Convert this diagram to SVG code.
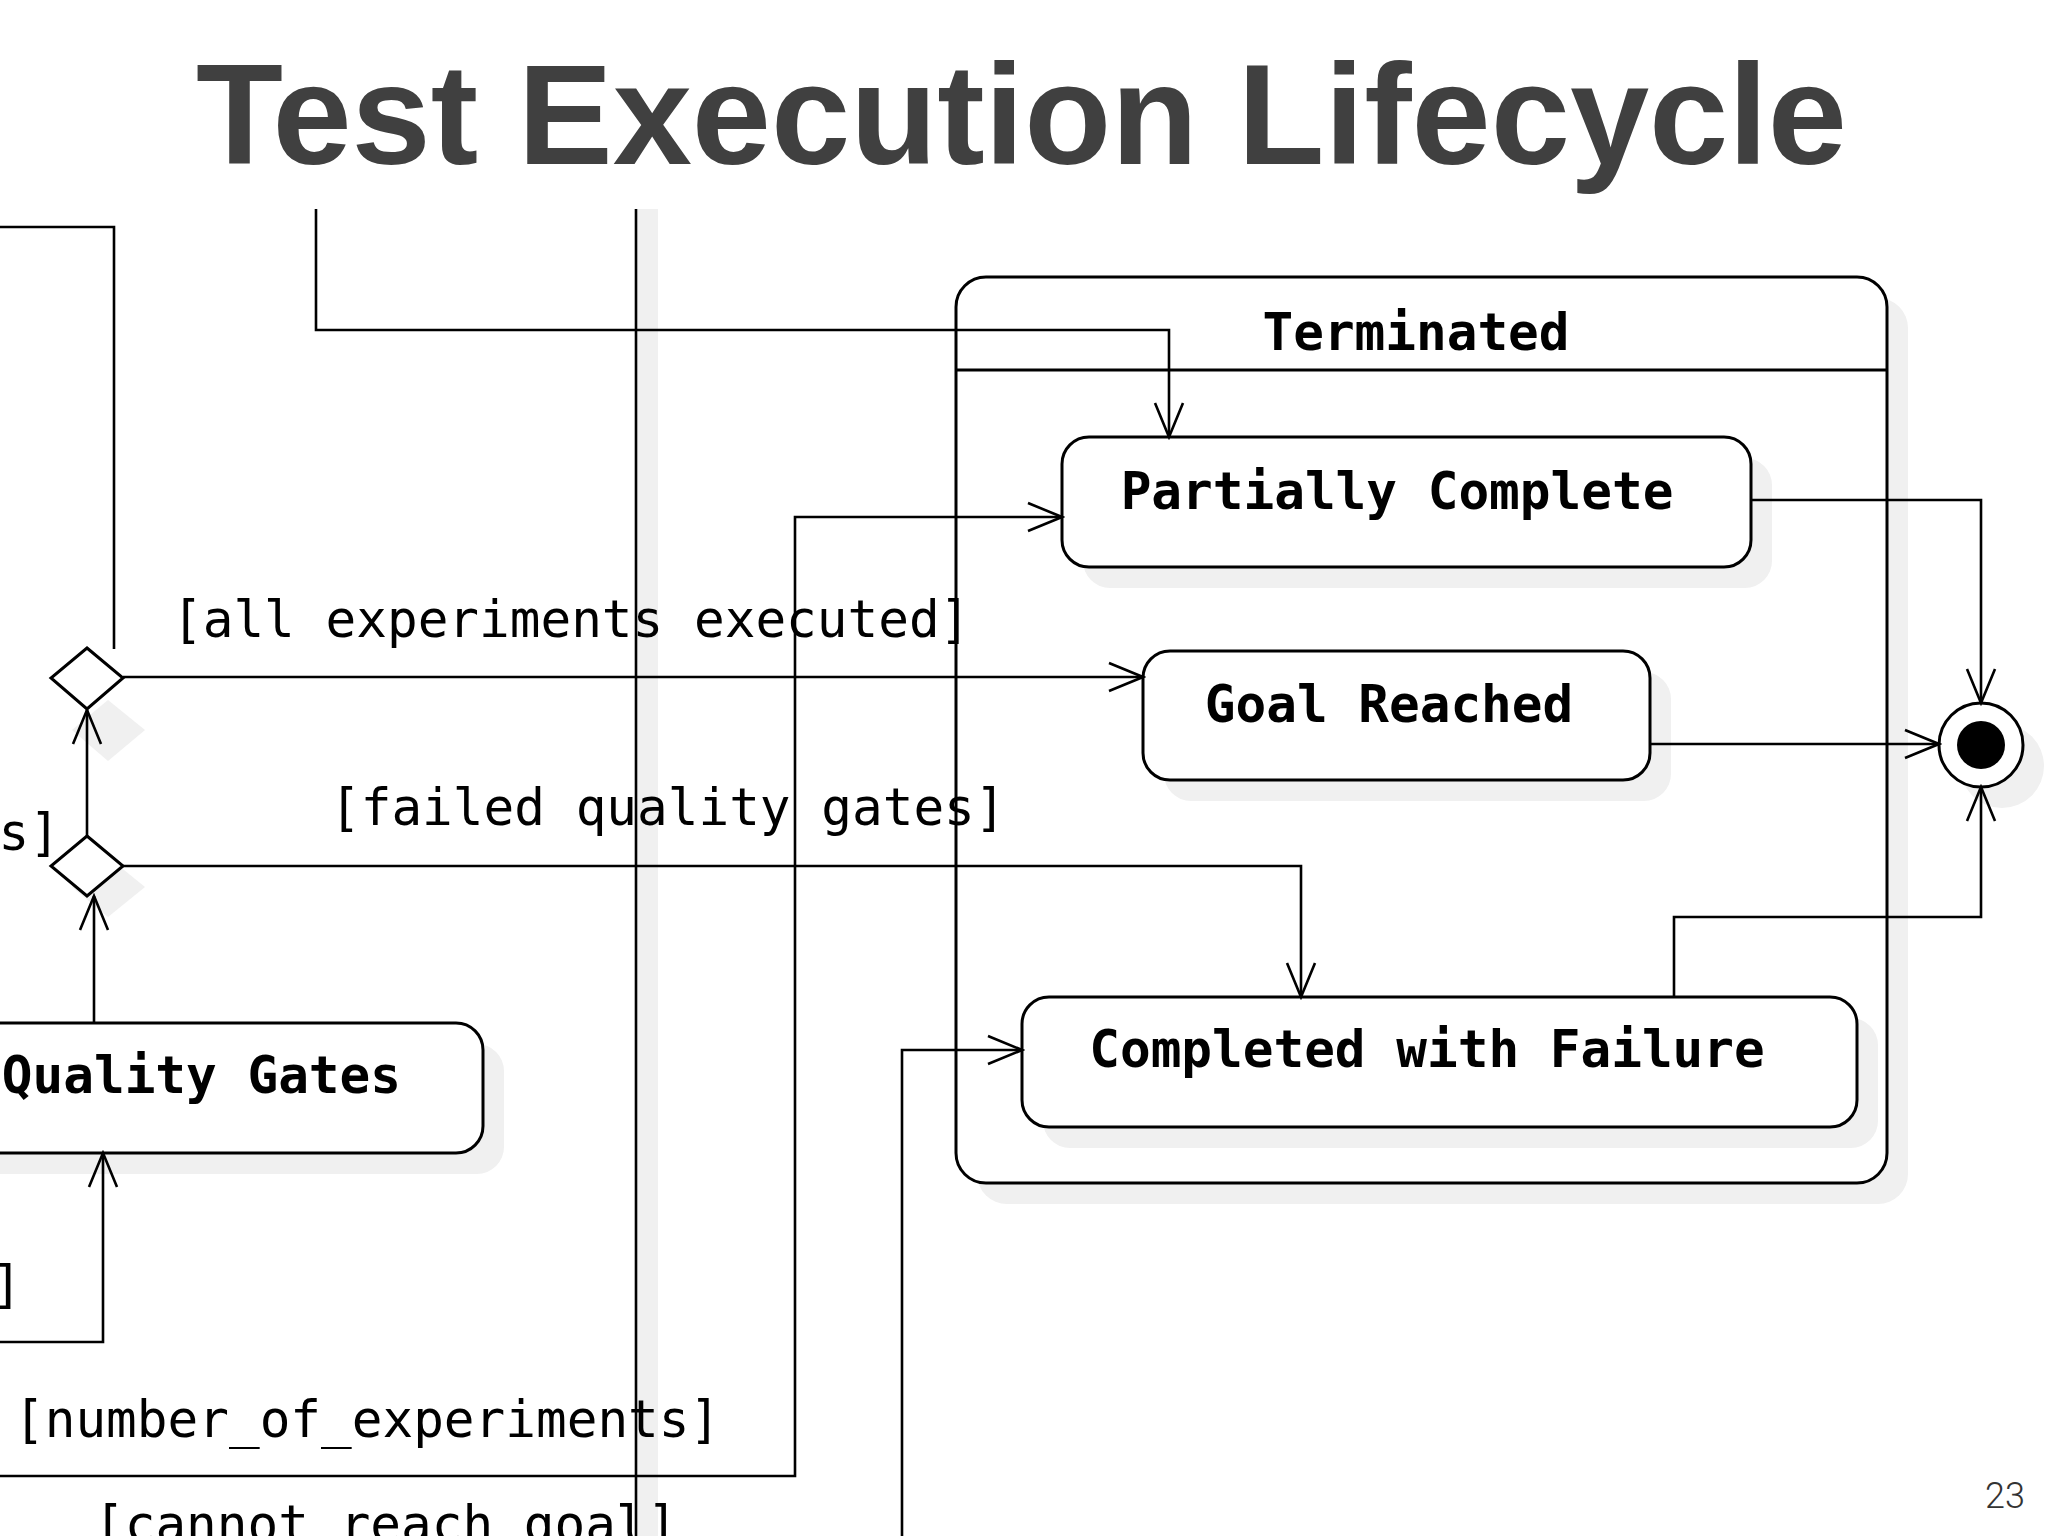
<svg xmlns="http://www.w3.org/2000/svg" width="2048" height="1536" viewBox="0 0 2048 1536">
<style>
.bg{fill:#fff}
.shadow{fill:#f0f0f0;stroke:none}
.node{fill:#fff;stroke:#000;stroke-width:3}
.edge{fill:none;stroke:#000;stroke-width:2.6}
.lbl{font-family:"DejaVu Sans Mono","Liberation Mono",monospace;font-size:51px;fill:#000}
.nlbl{font-family:"DejaVu Sans Mono","Liberation Mono",monospace;font-size:51px;font-weight:bold;fill:#000}
.title{font-family:"Liberation Sans",Arial,sans-serif;font-size:142px;font-weight:bold;fill:#404040}
.pg{font-family:Roboto,"Liberation Sans",sans-serif;font-weight:300;font-size:36px;fill:#333}
</style>
<defs>
<marker id="arr" markerUnits="userSpaceOnUse" markerWidth="40" markerHeight="34" viewBox="-37 -17 40 34" refX="0" refY="0" orient="auto">
<path d="M-34,-14 L0,0 L-34,14" fill="none" stroke="#000" stroke-width="2.6"/>
</marker>
</defs>
<rect class="bg" x="0" y="0" width="2048" height="1536"/>
<text class="title" x="196" y="164" textLength="1651" lengthAdjust="spacingAndGlyphs">Test Execution Lifecycle</text>

<g id="left-composite">
<rect class="shadow" x="637" y="209" width="21" height="1327"/>
<line x1="636" y1="209" x2="636" y2="1536" stroke="#000" stroke-width="2.6"/>
</g>

<g id="terminated">
<rect class="shadow" x="977" y="298" width="931" height="906" rx="30"/>
<rect class="node" x="956" y="277" width="931" height="906" rx="30"/>
<line x1="956" y1="370" x2="1887" y2="370" stroke="#000" stroke-width="3"/>
<text class="nlbl" x="1416" y="350" text-anchor="middle">Terminated</text>
</g>

<g id="partially-complete">
<rect class="shadow" x="1083" y="458" width="689" height="130" rx="27"/>
<rect class="node" x="1062" y="437" width="689" height="130" rx="27"/>
<text class="nlbl" x="1397" y="509" text-anchor="middle">Partially Complete</text>
</g>

<g id="goal-reached">
<rect class="shadow" x="1164" y="672" width="507" height="129" rx="27"/>
<rect class="node" x="1143" y="651" width="507" height="129" rx="27"/>
<text class="nlbl" x="1389" y="722" text-anchor="middle">Goal Reached</text>
</g>

<g id="completed-with-failure">
<rect class="shadow" x="1043" y="1018" width="835" height="130" rx="27"/>
<rect class="node" x="1022" y="997" width="835" height="130" rx="27"/>
<text class="nlbl" x="1427" y="1067" text-anchor="middle">Completed with Failure</text>
</g>

<g id="final-state">
<circle class="shadow" cx="2002" cy="766" r="42"/>
<circle class="node" cx="1981" cy="745" r="42"/>
<circle cx="1981" cy="745" r="24" fill="#000"/>
</g>

<g id="decision-upper">
<polygon class="shadow" points="108,700 145,730 108,761 72,730"/>
<polygon class="node" points="87,648 123,678 87,709 51,678"/>
</g>

<g id="decision-lower">
<polygon class="shadow" points="108,857 145,887 108,917 72,887"/>
<polygon class="node" points="87,836 123,866 87,896 51,866"/>
</g>

<g id="quality-gates">
<rect class="shadow" x="-40" y="1044" width="544" height="130" rx="27"/>
<rect class="node" x="-61" y="1023" width="544" height="130" rx="27"/>
<text class="nlbl" x="401" y="1093" text-anchor="end">Quality Gates</text>
</g>

<g id="connectors">
<path class="edge" d="M316,209 V330 H1169 V437" marker-end="url(#arr)"/>
<path class="edge" d="M0,227 H114 V649"/>
<path class="edge" d="M123,677 H1143" marker-end="url(#arr)"/>
<path class="edge" d="M87,836 V710" marker-end="url(#arr)"/>
<path class="edge" d="M123,866 H1301 V997" marker-end="url(#arr)"/>
<path class="edge" d="M94,1023 V896" marker-end="url(#arr)"/>
<path class="edge" d="M0,1342 H103 V1153" marker-end="url(#arr)"/>
<path class="edge" d="M0,1476 H795 V517 H1062" marker-end="url(#arr)"/>
<path class="edge" d="M902,1536 V1050 H1022" marker-end="url(#arr)"/>
<path class="edge" d="M1751,500 H1981 V703" marker-end="url(#arr)"/>
<path class="edge" d="M1650,744 H1939" marker-end="url(#arr)"/>
<path class="edge" d="M1674,997 V917 H1981 V787" marker-end="url(#arr)"/>
</g>

<g id="labels">
<text class="lbl" x="172" y="637">[all experiments executed]</text>
<text class="lbl" x="330" y="825">[failed quality gates]</text>
<text class="lbl" x="60" y="850" text-anchor="end">s]</text>
<text class="lbl" x="22" y="1302" text-anchor="end">]</text>
<text class="lbl" x="14" y="1437">[number_of_experiments]</text>
<text class="lbl" x="94" y="1542">[cannot reach goal]</text>
</g>

<text class="pg" x="2025" y="1508" text-anchor="end">23</text>
</svg>
